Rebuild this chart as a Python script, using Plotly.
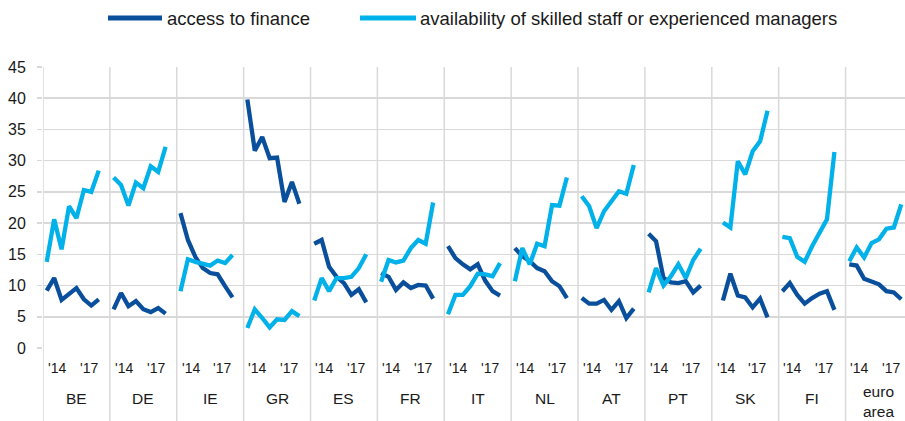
import plotly.graph_objects as go

countries = ["BE", "DE", "IE", "GR", "ES", "FR", "IT", "NL", "AT", "PT", "SK", "FI", "euro<br>area"]
year_labels = ["'14", "'17"]

access_to_finance = [
    [9.2, 11.2, 7.7, 8.6, 9.6, 7.8, 6.8, 7.8],
    [6.2, 8.8, 6.7, 7.5, 6.2, 5.75, 6.4, 5.5],
    [21.6, 17.3, 14.6, 12.8, 12.0, 11.8, 9.9, 8.1],
    [39.8, 31.6, 33.8, 30.4, 30.5, 23.4, 26.6, 23.1],
    [16.7, 17.3, 13.0, 11.4, 10.4, 8.5, 9.4, 7.3],
    [12.0, 11.4, 9.3, 10.5, 9.6, 10.1, 10.0, 7.9],
    [16.3, 14.4, 13.4, 12.6, 13.4, 10.8, 9.1, 8.4],
    [16.0, 14.7, 13.9, 12.8, 12.3, 10.7, 9.9, 8.0],
    [8.0, 7.1, 7.1, 7.7, 6.1, 7.5, 4.8, 6.3],
    [18.3, 17.1, 11.2, 10.5, 10.4, 10.7, 8.9, 10.0],
    [None, 7.6, 11.9, 8.4, 8.1, 6.5, 7.9, 4.9],
    [9.1, 10.4, 8.5, 7.1, 8.0, 8.7, 9.1, 6.1],
    [13.4, 13.2, 11.1, 10.7, 10.2, 9.1, 8.9, 7.8],
]

skilled_staff = [
    [13.8, 20.6, 15.8, 22.7, 20.8, 25.3, 25.0, 28.4],
    [27.3, 26.1, 22.8, 26.5, 25.6, 29.1, 28.2, 32.2],
    [9.1, 14.2, 13.8, 13.5, 13.2, 14.0, 13.6, 14.9],
    [3.2, 6.2, 4.8, 3.3, 4.6, 4.5, 5.9, 5.1],
    [7.6, 11.2, 9.1, 11.2, 11.2, 11.4, 12.8, 15.0],
    [10.6, 14.1, 13.7, 14.0, 16.0, 17.3, 16.7, 23.3],
    [5.4, 8.5, 8.5, 9.9, 11.9, 11.8, 11.5, 13.6],
    [10.7, 16.0, 13.4, 16.7, 16.3, 22.9, 22.8, 27.3],
    [24.3, 22.7, 19.2, 21.9, 23.5, 25.1, 24.7, 29.3],
    [8.9, 12.8, 10.0, 11.5, 13.4, 11.2, 14.1, 15.9],
    [None, 20.1, 19.3, 29.9, 27.8, 31.5, 33.1, 38.0],
    [17.8, 17.6, 14.6, 13.8, 16.3, 18.6, 20.6, 31.4],
    [13.9, 16.1, 14.5, 16.8, 17.4, 19.1, 19.3, 23.0],
]

DARK = "#0a4f9c"
LIGHT = "#00b1ea"
GRID = "#d9d9d9"
TXT = "#1a1a1a"
FONT = "Arial, Liberation Sans, sans-serif"
SLOTS = 9  # 8 survey rounds + 1 gap per country


def build(series):
    xs, ys = [], []
    for g, vals in enumerate(series):
        for s, v in enumerate(vals):
            xs.append(g * SLOTS + s + 0.5)
            ys.append(v)
        xs.append(None)
        ys.append(None)
    return xs, ys


fig = go.Figure()
for series, color, name in [(access_to_finance, DARK, "access to finance"),
                            (skilled_staff, LIGHT, "availability of skilled staff or experienced managers")]:
    xs, ys = build(series)
    fig.add_trace(go.Scatter(x=xs, y=ys, mode="lines", name=name,
                             line=dict(color=color, width=4.3), connectgaps=False,
                             showlegend=False))

W = 862.0
H = 281.0


def px_x(p):
    return (p - 43) / W


def px_y(p):
    return (348 - p) / H


shapes = []
for g in range(len(countries)):
    shapes.append(dict(type="line", xref="x", yref="paper", x0=g * SLOTS, x1=g * SLOTS,
                       y0=px_y(421), y1=1, line=dict(color=GRID, width=1.5), layer="below"))

annotations = []
for g, c in enumerate(countries):
    annotations.append(dict(x=g * SLOTS + 1.85, y=px_y(368), xref="x", yref="paper", text=year_labels[0],
                            yanchor="middle", showarrow=False, font=dict(size=14, color=TXT, family=FONT)))
    annotations.append(dict(x=g * SLOTS + 6.15, y=px_y(368), xref="x", yref="paper", text=year_labels[1],
                            yanchor="middle", showarrow=False, font=dict(size=14, color=TXT, family=FONT)))
    annotations.append(dict(x=g * SLOTS + 4.5, y=px_y(398) if "<br>" not in c else px_y(401),
                            xref="x", yref="paper", text=c, showarrow=False, yanchor="middle",
                            font=dict(size=15.5, color=TXT, family=FONT)))

# manual legend
leg = [(108, 162, 165, DARK, "access to finance"),
       (360, 416, 418, LIGHT, "availability of skilled staff or experienced managers")]
for x0, x1, xt, col, txt in leg:
    shapes.append(dict(type="line", xref="paper", yref="paper", x0=px_x(x0), x1=px_x(x1),
                       y0=px_y(18), y1=px_y(18), line=dict(color=col, width=5)))
    annotations.append(dict(x=px_x(xt), y=px_y(18), xref="paper", yref="paper", text=txt,
                            xanchor="left", yanchor="middle", showarrow=False,
                            font=dict(size=18.5, color=TXT, family=FONT)))

fig.update_layout(
    width=905, height=421,
    margin=dict(l=43, r=0, t=67, b=73, autoexpand=False),
    paper_bgcolor="white", plot_bgcolor="white",
    font=dict(family=FONT, color=TXT),
    shapes=shapes, annotations=annotations,
    xaxis=dict(range=[0, 116], showgrid=False, zeroline=False, showticklabels=False,
               showline=False, ticks="", automargin=False),
    yaxis=dict(range=[0, 45], dtick=5, showgrid=True, gridcolor=GRID, gridwidth=1.5,
               zeroline=False, showline=False, ticks="outside", ticklen=5, tickcolor=GRID,
               tickwidth=1.5, ticklabelstandoff=8, automargin=False,
               tickfont=dict(size=16, color=TXT, family=FONT)),
)

fig.write_html("out.html", config={"displayModeBar": False, "staticPlot": True},
               post_script="document.body.style.margin='0';document.body.style.overflow='hidden';")
